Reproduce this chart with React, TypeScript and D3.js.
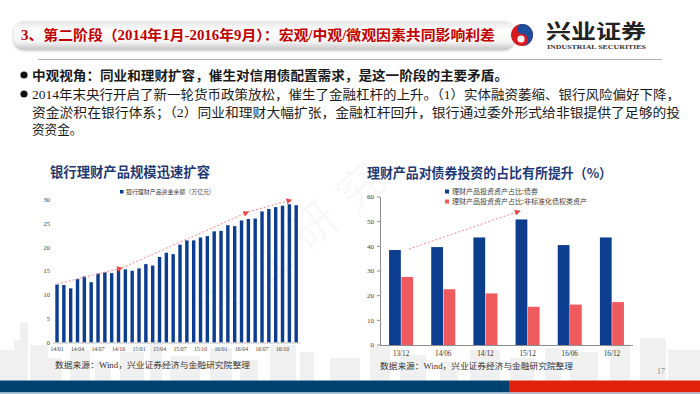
import React, { useRef, useEffect } from "react";
import * as d3 from "d3";

// left chart: bank wealth management balance (trillion yuan), monthly
const months = [
  "14/01", "14/02", "14/03", "14/04", "14/05", "14/06", "14/07", "14/08", "14/09", "14/10", "14/11", "14/12",
  "15/01", "15/02", "15/03", "15/04", "15/05", "15/06", "15/07", "15/08", "15/09", "15/10", "15/11", "15/12",
  "16/01", "16/02", "16/03", "16/04", "16/05", "16/06", "16/07", "16/08", "16/09", "16/10", "16/11", "16/12",
];
const wealthBalance = [
  12.2, 12.1, 11.4, 13.4, 13.9, 12.7, 14.5, 14.8, 14.6, 15.3, 15.4, 15.1,
  15.6, 16.5, 16.2, 18.0, 18.9, 18.6, 20.6, 21.5, 21.5, 22.1, 22.4, 23.4,
  23.5, 24.7, 24.5, 25.7, 26.0, 26.1, 27.6, 28.1, 28.5, 28.8, 29.1, 28.9,
];
const leftTicks = [0, 5, 10, 15, 20, 25, 30];
// trend annotation (month index, value)
const leftTrend: [number, number][] = [[0, 12.3], [9.5, 15.7], [28, 27.5], [34.3, 30]];

// right chart: share of wealth products' assets (%)
const periods = ["13/12", "14/06", "14/12", "15/12", "16/06", "16/12"];
const bondShare = [38.5, 39.7, 43.6, 50.9, 40.5, 43.6];
const nonStdShare = [27.6, 22.6, 20.9, 15.5, 16.4, 17.4];
const rightTicks = [0, 10, 20, 30, 40, 50, 60];
const seriesNames = ["理财产品投资资产占比:债券", "理财产品投资资产占比:非标准化债权类资产"];

const bullet2 = [
  "2014年末央行开启了新一轮货币政策放松，催生了金融杠杆的上升。（1）实体融资萎缩、银行风险偏好下降，",
  "资金淤积在银行体系；（2）同业和理财大幅扩张，金融杠杆回升，银行通过委外形式给非银提供了足够的投",
  "资资金。",
];

// background skyline (decoration): [x, width, top]
const skyline: [number, number, number][] = [
  [0, 14, 350], [14, 10, 340], [20, 8, 322], [30, 18, 345], [48, 14, 358], [70, 20, 350],
  [95, 16, 362], [120, 24, 352], [150, 12, 340], [170, 30, 356], [210, 22, 348], [240, 18, 360],
  [270, 26, 345], [300, 14, 352], [330, 30, 358], [370, 20, 346], [400, 26, 355], [440, 18, 362],
  [470, 30, 350], [510, 24, 358], [545, 16, 348], [570, 28, 352], [610, 20, 344], [640, 26, 338],
  [668, 32, 350],
];

const NAVY = "#0d3d8e";
const CORAL = "#ef5a5f";
const SERIF = "'Liberation Serif', 'Noto Sans CJK SC', serif";
const CJK = "'Noto Sans CJK SC', sans-serif";

const Slide: React.FC = () => {
  const ref = useRef<SVGSVGElement | null>(null);

  useEffect(() => {
    const svg = d3.select(ref.current);
    svg.selectAll("*").remove();

    const defs = svg.append("defs");
    const grad = defs.append("linearGradient").attr("id", "banner").attr("x1", 0).attr("y1", 0).attr("x2", 0).attr("y2", 1);
    grad.append("stop").attr("offset", "0%").attr("stop-color", "#e6e6e6");
    grad.append("stop").attr("offset", "35%").attr("stop-color", "#ffffff");
    grad.append("stop").attr("offset", "75%").attr("stop-color", "#f4f4f4");
    grad.append("stop").attr("offset", "100%").attr("stop-color", "#c9c9c9");
    defs.append("filter").attr("id", "shadow").attr("x", "-5%").attr("y", "-30%").attr("width", "110%").attr("height", "170%")
      .append("feDropShadow").attr("dx", 0).attr("dy", 1.5).attr("stdDeviation", 1.5).attr("flood-color", "#888").attr("flood-opacity", 0.6);
    defs.append("marker").attr("id", "arrowhead").attr("viewBox", "0 0 6 6")
      .attr("refX", 5).attr("refY", 3).attr("markerWidth", 6).attr("markerHeight", 6)
      .attr("markerUnits", "userSpaceOnUse").attr("orient", "auto")
      .append("path").attr("d", "M0,0L6,3L0,6Z").attr("fill", "#e5484d");

    svg.append("rect").attr("width", 700).attr("height", 394).attr("fill", "#fff");

    // skyline
    svg.append("g").selectAll("rect").data(skyline).enter().append("rect")
      .attr("x", (d) => d[0]).attr("y", (d) => d[2]).attr("width", (d) => d[1])
      .attr("height", (d) => 381 - d[2]).attr("fill", "#f0f0f0");

    // watermark
    svg.append("text").attr("transform", "translate(215,330) rotate(-40)")
      .attr("font-family", CJK).attr("font-size", 46).attr("fill", "#000").attr("fill-opacity", 0.028)
      .attr("letter-spacing", 14).text("兴业研究");

    // header banner
    svg.append("rect").attr("x", 14).attr("y", 21).attr("width", 500).attr("height", 28).attr("rx", 10)
      .attr("fill", "url(#banner)").attr("filter", "url(#shadow)");
    svg.append("text").attr("x", 21).attr("y", 40).attr("font-family", SERIF).attr("font-size", 14)
      .attr("font-weight", "bold").attr("fill", "#c00000").attr("textLength", 474).attr("lengthAdjust", "spacingAndGlyphs")
      .text("3、第二阶段（2014年1月-2016年9月）：宏观/中观/微观因素共同影响利差");
    svg.append("line").attr("x1", 38).attr("x2", 662).attr("y1", 59.5).attr("y2", 59.5).attr("stroke", "#b0b0b0");

    // logo
    const logo = svg.append("g").attr("transform", "translate(522,35)");
    logo.append("circle").attr("r", 11).attr("fill", "#d71920");
    logo.append("path").attr("d", "M0,-11A11,11 0 0,1 0,11A6,6 0 0,0 0,-1A5,5 0 0,1 0,-11Z").attr("fill", "#1e4f9c");
    logo.append("circle").attr("cx", -1).attr("cy", 4).attr("r", 3.6).attr("fill", "#fff");
    svg.append("text").attr("x", 546).attr("y", 39).attr("font-family", SERIF).attr("font-size", 20)
      .attr("font-weight", "bold").attr("fill", "#222").attr("textLength", 100).attr("lengthAdjust", "spacingAndGlyphs").text("兴业证券");
    svg.append("text").attr("x", 547).attr("y", 49).attr("font-family", SERIF).attr("font-size", 6)
      .attr("font-weight", "bold").attr("fill", "#333").attr("textLength", 99).attr("lengthAdjust", "spacingAndGlyphs").text("INDUSTRIAL SECURITIES");

    // bullets
    const body = svg.append("g").attr("font-family", SERIF).attr("fill", "#1a1a1a");
    body.append("circle").attr("cx", 24).attr("cy", 75).attr("r", 3.6).attr("fill", "#111");
    body.append("text").attr("x", 32).attr("y", 80).attr("font-size", 13).attr("font-weight", "bold")
      .attr("textLength", 476).attr("lengthAdjust", "spacingAndGlyphs")
      .text("中观视角：同业和理财扩容，催生对信用债配置需求，是这一阶段的主要矛盾。");
    body.append("circle").attr("cx", 24).attr("cy", 94).attr("r", 3.6).attr("fill", "#111");
    bullet2.forEach((line, i) => {
      const t = body.append("text").attr("x", 32).attr("y", 99 + i * 17.5).attr("font-size", 12.6).text(line);
      if (i < 2) t.attr("textLength", 648).attr("lengthAdjust", "spacingAndGlyphs");
    });

    // ---------- left chart ----------
    svg.append("text").attr("x", 50).attr("y", 177).attr("font-family", CJK).attr("font-size", 13.5)
      .attr("font-weight", "bold").attr("fill", "#1f3a73").attr("textLength", 160).attr("lengthAdjust", "spacingAndGlyphs")
      .text("银行理财产品规模迅速扩容");

    const xL = d3.scaleBand<string>().domain(months).range([53.6, 299.6]).paddingInner(0.5).paddingOuter(0.25);
    const yL = d3.scaleLinear().domain([0, 30]).range([342.5, 200]);
    const left = svg.append("g");

    left.append("rect").attr("x", 120).attr("y", 190).attr("width", 3.5).attr("height", 3.5).attr("fill", NAVY);
    left.append("text").attr("x", 126).attr("y", 194.2).attr("font-family", CJK).attr("font-size", 5.9).attr("fill", "#404040")
      .attr("textLength", 89).attr("lengthAdjust", "spacingAndGlyphs").text("银行理财产品资金余额（万亿元）");

    left.selectAll("text.ytick").data(leftTicks).enter().append("text").attr("class", "ytick")
      .attr("x", 50).attr("y", (d) => yL(d) + 2.2).attr("text-anchor", "end")
      .attr("font-family", SERIF).attr("font-size", 6.5).attr("fill", "#404040").text((d) => d);

    left.selectAll("rect.bar").data(wealthBalance).enter().append("rect").attr("class", "bar")
      .attr("x", (_, i) => xL(months[i]) || 0).attr("y", (d) => yL(d))
      .attr("width", xL.bandwidth()).attr("height", (d) => yL(0) - yL(d)).attr("fill", NAVY);

    left.append("line").attr("x1", 53).attr("x2", 300).attr("y1", yL(0) + 0.5).attr("y2", yL(0) + 0.5).attr("stroke", "#bfbfbf");

    left.selectAll("text.xtick").data(months.filter((_, i) => i % 3 === 0)).enter().append("text").attr("class", "xtick")
      .attr("x", (d) => (xL(d) || 0) + xL.bandwidth() / 2).attr("y", 351).attr("text-anchor", "middle")
      .attr("font-family", SERIF).attr("font-size", 5.8).attr("fill", "#404040").text((d) => d);

    const idxX = (i: number) => (xL(months[0]) || 0) + xL.bandwidth() / 2 + i * xL.step();
    for (let k = 1; k < leftTrend.length; k++) {
      const [i0, v0] = leftTrend[k - 1];
      const [i1, v1] = leftTrend[k];
      left.append("line").attr("x1", idxX(i0)).attr("y1", yL(v0)).attr("x2", idxX(i1)).attr("y2", yL(v1))
        .attr("stroke", "#f08a8d").attr("stroke-width", 1).attr("stroke-dasharray", "2,2")
        .attr("marker-end", "url(#arrowhead)");
    }

    left.append("text").attr("x", 55).attr("y", 368).attr("font-family", SERIF).attr("font-size", 8.2).attr("fill", "#333")
      .attr("textLength", 195).attr("lengthAdjust", "spacingAndGlyphs").text("数据来源：Wind，兴业证券经济与金融研究院整理");

    // ---------- right chart ----------
    svg.append("text").attr("x", 367).attr("y", 178).attr("font-family", CJK).attr("font-size", 13.5)
      .attr("font-weight", "bold").attr("fill", "#1f3a73").attr("textLength", 245).attr("lengthAdjust", "spacingAndGlyphs")
      .text("理财产品对债券投资的占比有所提升（%）");

    const x0 = d3.scaleBand<string>().domain(periods).range([380, 633]).paddingInner(0.43).paddingOuter(0.215);
    const x1 = d3.scaleBand<number>().domain([0, 1]).range([0, x0.bandwidth()]).paddingInner(0.04);
    const yR = d3.scaleLinear().domain([0, 60]).range([345, 197]);
    const right = svg.append("g");
    const colors = [NAVY, CORAL];

    seriesNames.forEach((name, i) => {
      right.append("rect").attr("x", 445).attr("y", 189.5 + i * 10).attr("width", 4).attr("height", 4).attr("fill", colors[i]);
      right.append("text").attr("x", 452).attr("y", 194.3 + i * 10).attr("font-family", CJK).attr("font-size", 7)
        .attr("fill", "#404040").text(name);
    });

    right.selectAll("text.ytick").data(rightTicks).enter().append("text").attr("class", "ytick")
      .attr("x", 374).attr("y", (d) => yR(d) + 2.3).attr("text-anchor", "end")
      .attr("font-family", SERIF).attr("font-size", 7).attr("fill", "#404040").text((d) => d);
    right.selectAll("line.ytick").data(rightTicks).enter().append("line").attr("class", "ytick")
      .attr("x1", 377).attr("x2", 380.5).attr("y1", (d) => yR(d)).attr("y2", (d) => yR(d)).attr("stroke", "#8c8c8c");

    [bondShare, nonStdShare].forEach((vals, s) => {
      right.append("g").selectAll("rect").data(vals).enter().append("rect")
        .attr("x", (_, i) => (x0(periods[i]) || 0) + (x1(s) || 0)).attr("y", (d) => yR(d))
        .attr("width", x1.bandwidth()).attr("height", (d) => yR(0) - yR(d)).attr("fill", colors[s]);
    });

    right.append("line").attr("x1", 380.5).attr("x2", 380.5).attr("y1", 197).attr("y2", 345.5).attr("stroke", "#8c8c8c");
    right.append("line").attr("x1", 380).attr("x2", 633).attr("y1", 345.5).attr("y2", 345.5).attr("stroke", "#8c8c8c");

    right.selectAll("text.xtick").data(periods).enter().append("text").attr("class", "xtick")
      .attr("x", (d) => (x0(d) || 0) + x0.bandwidth() / 2).attr("y", 356).attr("text-anchor", "middle")
      .attr("font-family", SERIF).attr("font-size", 7.2).attr("fill", "#333").text((d) => d);

    right.append("line")
      .attr("x1", (x0(periods[0]) || 0) + x0.step() * 0.47).attr("y1", yR(38.9))
      .attr("x2", (x0(periods[3]) || 0) + x0.step() * 0.1).attr("y2", yR(54.3))
      .attr("stroke", "#f08a8d").attr("stroke-dasharray", "2,2").attr("marker-end", "url(#arrowhead)");

    right.append("text").attr("x", 380).attr("y", 369).attr("font-family", SERIF).attr("font-size", 8.2).attr("fill", "#333")
      .attr("textLength", 193).attr("lengthAdjust", "spacingAndGlyphs").text("数据来源：Wind，兴业证券经济与金融研究院整理");

    // footer
    svg.append("text").attr("x", 657).attr("y", 374).attr("font-family", SERIF).attr("font-size", 8).attr("fill", "#8c8c8c").text("17");
    svg.append("rect").attr("x", 0).attr("y", 380.5).attr("width", 509).attr("height", 12).attr("fill", "#00426f");
    svg.append("rect").attr("x", 509).attr("y", 380.5).attr("width", 191).attr("height", 12).attr("fill", "#e0220c");
    svg.append("rect").attr("x", 0).attr("y", 392.5).attr("width", 700).attr("height", 1.5).attr("fill", "#a8c6da");
  }, []);

  return <svg ref={ref} width={700} height={394} style={{ position: "absolute", left: 0, top: 0, display: "block" }}></svg>;
};

export default function App() {
  return <Slide />;
}
